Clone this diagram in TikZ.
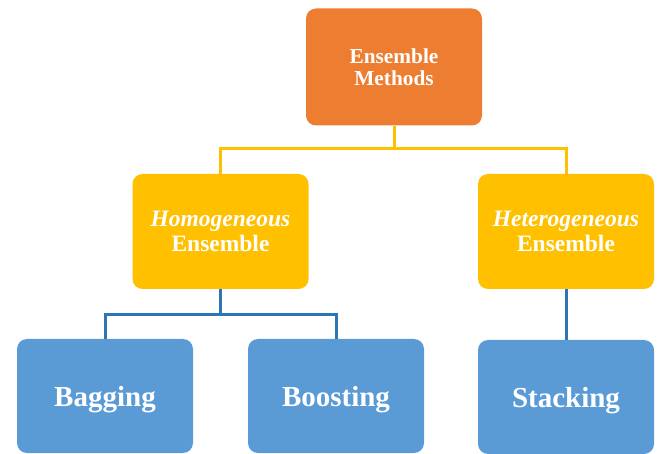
\documentclass[tikz,border=0pt]{standalone}
\usepackage{fontspec}
\setmainfont{Liberation Serif}
\definecolor{orangebox}{HTML}{ED7D31}
\definecolor{goldbox}{HTML}{FFC000}
\definecolor{bluebox}{HTML}{5B9BD5}
\definecolor{blueline}{HTML}{2E75B6}
\tikzset{
  box/.style={rounded corners=10pt, minimum width=176pt, text=white, font=\bfseries, align=center, inner sep=0pt},
  topbox/.style={box, fill=orangebox, minimum height=117pt, font=\bfseries\fontsize{21.3}{21.5}\selectfont},
  midbox/.style={box, fill=goldbox, minimum height=115pt, font=\bfseries\fontsize{23.5}{25}\selectfont},
  leafbox/.style={box, fill=bluebox, minimum height=114pt, text depth=0pt, font=\bfseries\fontsize{29}{30}\selectfont},
  yline/.style={draw=goldbox, line width=3pt},
  bline/.style={draw=blueline, line width=3pt}
}
\begin{document}
\begin{tikzpicture}[x=1pt,y=-1pt]
\useasboundingbox (0,0) rectangle (659,454);
% boxes
\node[topbox] (top) at (394,67) {Ensemble\\Methods};
\node[midbox] (homo) at (220.5,231.5) {\textit{Homogeneous}\\Ensemble};
\node[midbox] (hetero) at (566,231.5) {\textit{Heterogeneous}\\Ensemble};
\node[leafbox] (bag) at (105,396) {Bagging};
\node[leafbox] (boost) at (336,396) {Boosting};
\node[leafbox] (stack) at (566,397) {Stacking};
% connectors
\draw[yline] (top.south) -- ++(0,23) -| (homo.north);
\draw[yline] (top.south) -- ++(0,23) -| (hetero.north);
\draw[bline] (homo.south) -- ++(0,25) -| (bag.north);
\draw[bline] (homo.south) -- ++(0,25) -| (boost.north);
\draw[bline] (hetero.south) -- (stack.north);
\end{tikzpicture}
\end{document}
